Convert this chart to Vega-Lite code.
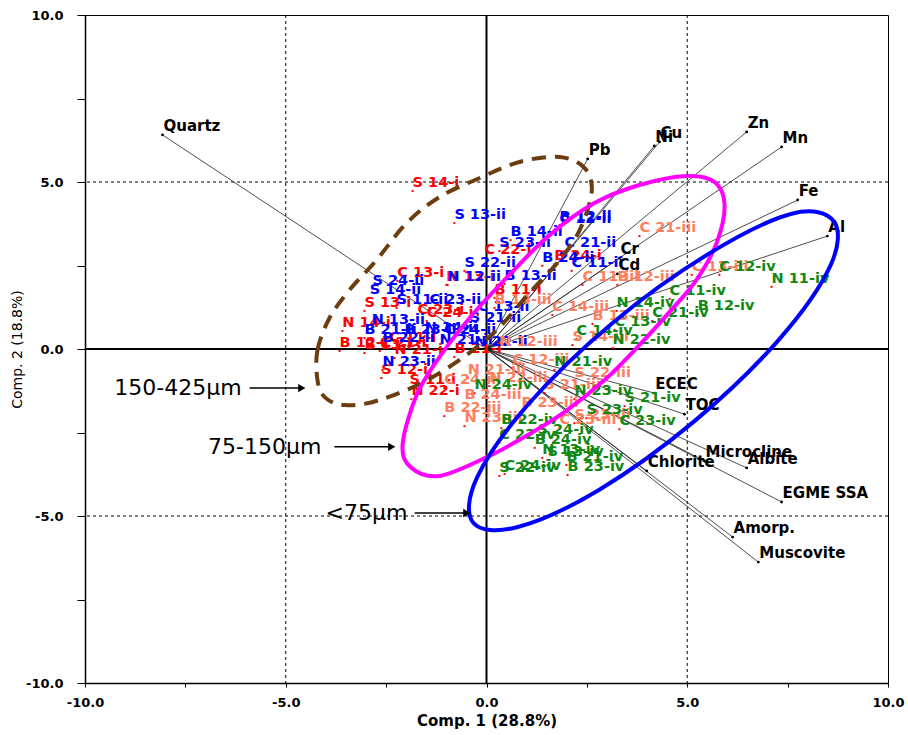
{
  "$schema": "https://vega.github.io/schema/vega-lite/v6.json",
  "width": 803,
  "height": 668,
  "autosize": {"type": "none"},
  "padding": {"left": 85, "top": 15, "right": 20, "bottom": 52},
  "background": "white",
  "config": {
    "view": {"stroke": "#000", "strokeWidth": 1},
    "axis": {"grid": false, "domainColor": "#000", "tickColor": "#000", "labelColor": "#000", "titleColor": "#000", "labelFont": "DejaVu Sans", "labelFontWeight": "bold", "labelFontSize": 13, "titleFont": "DejaVu Sans"}
  },
  "datasets": {
    "loadings": [
      {"n": "Quartz", "x": -8.07, "y": 6.41},
      {"n": "Pb", "x": 2.52, "y": 5.69},
      {"n": "Ni", "x": 4.18, "y": 6.08},
      {"n": "Cu", "x": 4.31, "y": 6.2},
      {"n": "Zn", "x": 6.48, "y": 6.5},
      {"n": "Mn", "x": 7.35, "y": 6.05},
      {"n": "Fe", "x": 7.75, "y": 4.46},
      {"n": "Al", "x": 8.49, "y": 3.38},
      {"n": "Cr", "x": 3.31, "y": 2.72},
      {"n": "Cd", "x": 3.26, "y": 2.25},
      {"n": "ECEC", "x": 4.18, "y": -1.32},
      {"n": "TOC", "x": 4.93, "y": -1.95},
      {"n": "Microcline", "x": 5.43, "y": -3.35},
      {"n": "Albite", "x": 6.48, "y": -3.56},
      {"n": "Chlorite", "x": 3.99, "y": -3.65},
      {"n": "EGME SSA", "x": 7.35, "y": -4.58},
      {"n": "Amorp.", "x": 6.13, "y": -5.63},
      {"n": "Muscovite", "x": 6.77, "y": -6.38}
    ],
    "scores": [
      {"t": "S 14-i", "g": "i", "x": -1.84, "y": 4.73},
      {"t": "C 22-i", "g": "i", "x": -0.05, "y": 2.72},
      {"t": "B 24-i", "g": "i", "x": 1.69, "y": 2.54},
      {"t": "C 13-i", "g": "i", "x": -2.22, "y": 2.04},
      {"t": "B 11-i", "g": "i", "x": 0.2, "y": 1.53},
      {"t": "S 13-i", "g": "i", "x": -3.04, "y": 1.14},
      {"t": "C 24-i", "g": "i", "x": -1.49, "y": 0.84},
      {"t": "C 23-i", "g": "i", "x": -1.72, "y": 0.93},
      {"t": "N 13-i", "g": "i", "x": -1.0, "y": 1.92},
      {"t": "N 14-i", "g": "i", "x": -3.59, "y": 0.54},
      {"t": "B 12-i", "g": "i", "x": -3.66, "y": -0.06},
      {"t": "B 13-i", "g": "i", "x": -3.04, "y": -0.12},
      {"t": "C 21-i", "g": "i", "x": -2.66, "y": -0.06},
      {"t": "C 11-i", "g": "i", "x": -2.42, "y": 0.09},
      {"t": "N 21-i", "g": "i", "x": -2.29, "y": -0.27},
      {"t": "S 12-i", "g": "i", "x": -2.62, "y": -0.87},
      {"t": "S 11-i", "g": "i", "x": -1.92, "y": -1.17},
      {"t": "N 22-i", "g": "i", "x": -1.87, "y": -1.5},
      {"t": "B 21-i", "g": "i", "x": -0.8, "y": -0.24},
      {"t": "S 13-ii", "g": "ii", "x": -0.8, "y": 3.77},
      {"t": "B 12-ii", "g": "ii", "x": 1.82, "y": 3.71},
      {"t": "C 12-ii", "g": "ii", "x": 1.82, "y": 3.65},
      {"t": "B 14-ii", "g": "ii", "x": 0.6, "y": 3.26},
      {"t": "S 23-ii", "g": "ii", "x": 0.32, "y": 2.93},
      {"t": "C 21-ii", "g": "ii", "x": 1.94, "y": 2.93},
      {"t": "B 24-ii", "g": "ii", "x": 1.39, "y": 2.49},
      {"t": "C 11-ii", "g": "ii", "x": 2.12, "y": 2.34},
      {"t": "S 22-ii", "g": "ii", "x": -0.55, "y": 2.34},
      {"t": "N 12-ii", "g": "ii", "x": -0.97, "y": 1.92},
      {"t": "B 13-ii", "g": "ii", "x": 0.45, "y": 1.95},
      {"t": "S 24-ii", "g": "ii", "x": -2.84, "y": 1.8},
      {"t": "S 14-ii", "g": "ii", "x": -2.91, "y": 1.53},
      {"t": "S 11-ii", "g": "ii", "x": -2.24, "y": 1.23},
      {"t": "C 23-ii", "g": "ii", "x": -1.42, "y": 1.23},
      {"t": "C 13-ii", "g": "ii", "x": -0.22, "y": 1.02},
      {"t": "S 21-ii", "g": "ii", "x": -0.42, "y": 0.69},
      {"t": "N 13-ii", "g": "ii", "x": -2.86, "y": 0.63},
      {"t": "B 21-ii", "g": "ii", "x": -3.04, "y": 0.33},
      {"t": "B 22-ii", "g": "ii", "x": -2.59, "y": 0.09},
      {"t": "B 23-ii", "g": "ii", "x": -2.04, "y": 0.33},
      {"t": "N 14-ii", "g": "ii", "x": -1.54, "y": 0.39},
      {"t": "C 24-ii", "g": "ii", "x": -1.05, "y": 0.33},
      {"t": "N 21-ii", "g": "ii", "x": -1.17, "y": 0.03},
      {"t": "N 22-ii", "g": "ii", "x": -0.3, "y": -0.03},
      {"t": "N 23-ii", "g": "ii", "x": -2.59, "y": -0.63},
      {"t": "C 21-iii", "g": "iii", "x": 3.81, "y": 3.38},
      {"t": "C 13-iii", "g": "iii", "x": 5.11, "y": 2.22},
      {"t": "C 11-iii", "g": "iii", "x": 2.39, "y": 1.92},
      {"t": "B 12-iii", "g": "iii", "x": 3.26, "y": 1.92},
      {"t": "B 14-iii", "g": "iii", "x": 0.2, "y": 1.23},
      {"t": "C 14-iii", "g": "iii", "x": 1.64, "y": 1.02},
      {"t": "B 13-iii", "g": "iii", "x": 2.64, "y": 0.75},
      {"t": "S 14-iii", "g": "iii", "x": 2.14, "y": 0.12},
      {"t": "N 12-iii", "g": "iii", "x": 0.32, "y": -0.03},
      {"t": "C 12-iii", "g": "iii", "x": 0.65, "y": -0.57},
      {"t": "S 22-iii", "g": "iii", "x": 2.19, "y": -0.96},
      {"t": "N 21-iii", "g": "iii", "x": -0.47, "y": -0.87},
      {"t": "S 21-iii", "g": "iii", "x": 1.44, "y": -1.32},
      {"t": "C 24-iii", "g": "iii", "x": -1.05, "y": -1.17},
      {"t": "B 24-iii", "g": "iii", "x": -0.55, "y": -1.62},
      {"t": "N 22-iii", "g": "iii", "x": 0.07, "y": -1.11},
      {"t": "B 22-iii", "g": "iii", "x": -1.05, "y": -2.01},
      {"t": "N 23-iii", "g": "iii", "x": -0.55, "y": -2.31},
      {"t": "B 23-iii", "g": "iii", "x": 0.87, "y": -1.86},
      {"t": "C 23-iii", "g": "iii", "x": 1.82, "y": -2.37},
      {"t": "S 23-iii", "g": "iii", "x": 2.19, "y": -2.22},
      {"t": "C 12-iv", "g": "iv", "x": 5.8, "y": 2.22},
      {"t": "N 11-iv", "g": "iv", "x": 7.1, "y": 1.86},
      {"t": "C 11-iv", "g": "iv", "x": 4.56, "y": 1.5},
      {"t": "B 12-iv", "g": "iv", "x": 5.26, "y": 1.05},
      {"t": "N 14-iv", "g": "iv", "x": 3.24, "y": 1.14},
      {"t": "C 21-iv", "g": "iv", "x": 4.13, "y": 0.84},
      {"t": "C 13-iv", "g": "iv", "x": 3.19, "y": 0.57},
      {"t": "C 14-iv", "g": "iv", "x": 2.24, "y": 0.3},
      {"t": "N 22-iv", "g": "iv", "x": 3.14, "y": 0.03},
      {"t": "N 21-iv", "g": "iv", "x": 1.69, "y": -0.63},
      {"t": "N 24-iv", "g": "iv", "x": -0.3, "y": -1.32},
      {"t": "N 23-iv", "g": "iv", "x": 2.19, "y": -1.5},
      {"t": "S 21-iv", "g": "iv", "x": 3.44, "y": -1.71},
      {"t": "S 23-iv", "g": "iv", "x": 2.49, "y": -2.07},
      {"t": "C 23-iv", "g": "iv", "x": 3.31, "y": -2.4},
      {"t": "B 22-iv", "g": "iv", "x": 0.37, "y": -2.37},
      {"t": "S 24-iv", "g": "iv", "x": 1.27, "y": -2.66},
      {"t": "C 22-iv", "g": "iv", "x": 0.32, "y": -2.81},
      {"t": "B 24-iv", "g": "iv", "x": 1.2, "y": -2.96},
      {"t": "N 13-iv", "g": "iv", "x": 1.39, "y": -3.26},
      {"t": "S 13-iv", "g": "iv", "x": 1.52, "y": -3.32},
      {"t": "B 21-iv", "g": "iv", "x": 1.99, "y": -3.47},
      {"t": "B 23-iv", "g": "iv", "x": 2.02, "y": -3.77},
      {"t": "S 22-iv", "g": "iv", "x": 0.32, "y": -3.8},
      {"t": "C 24-iv", "g": "iv", "x": 0.45, "y": -3.74}
    ],
    "brown": [
      {"o": 1, "x": -4.21, "y": -0.93}, {"o": 2, "x": -4.21, "y": -0.03}, {"o": 3, "x": -3.91, "y": 0.93},
      {"o": 4, "x": -3.41, "y": 1.77}, {"o": 5, "x": -2.74, "y": 2.66}, {"o": 6, "x": -1.99, "y": 3.77},
      {"o": 7, "x": -1.17, "y": 4.55}, {"o": 8, "x": -0.17, "y": 5.12}, {"o": 9, "x": 0.82, "y": 5.6},
      {"o": 10, "x": 1.82, "y": 5.75}, {"o": 11, "x": 2.44, "y": 5.42}, {"o": 12, "x": 2.62, "y": 4.7},
      {"o": 13, "x": 2.32, "y": 3.56}, {"o": 14, "x": 1.82, "y": 2.66}, {"o": 15, "x": 1.07, "y": 1.68},
      {"o": 16, "x": 0.07, "y": 0.36}, {"o": 17, "x": -1.34, "y": -0.84}, {"o": 18, "x": -2.67, "y": -1.53},
      {"o": 19, "x": -3.54, "y": -1.68}, {"o": 20, "x": -4.03, "y": -1.44}
    ],
    "magenta": [
      {"o": 1, "x": -2.09, "y": -2.87}, {"o": 2, "x": -1.87, "y": -3.56}, {"o": 3, "x": -1.17, "y": -3.8},
      {"o": 4, "x": 0.02, "y": -3.23}, {"o": 5, "x": 0.95, "y": -2.63}, {"o": 6, "x": 1.94, "y": -1.89},
      {"o": 7, "x": 2.94, "y": -0.93}, {"o": 8, "x": 3.81, "y": 0.12}, {"o": 9, "x": 4.56, "y": 1.11},
      {"o": 10, "x": 5.23, "y": 2.07}, {"o": 11, "x": 5.73, "y": 3.17}, {"o": 12, "x": 5.93, "y": 4.31},
      {"o": 13, "x": 5.68, "y": 5.0}, {"o": 14, "x": 4.98, "y": 5.18}, {"o": 15, "x": 3.81, "y": 4.91},
      {"o": 16, "x": 2.69, "y": 4.37}, {"o": 17, "x": 1.57, "y": 3.41}, {"o": 18, "x": 0.57, "y": 2.22},
      {"o": 19, "x": -0.42, "y": 0.93}, {"o": 20, "x": -1.17, "y": -0.24}, {"o": 21, "x": -1.74, "y": -1.38}
    ],
    "blue": [
      {"o": 1, "x": 8.65, "y": 3.82}, {"o": 2, "x": 8.56, "y": 2.48}, {"o": 3, "x": 7.29, "y": 0.29},
      {"o": 4, "x": 5.18, "y": -2.16}, {"o": 5, "x": 2.8, "y": -4.22}, {"o": 6, "x": 0.78, "y": -5.33},
      {"o": 7, "x": -0.33, "y": -5.2}, {"o": 8, "x": -0.24, "y": -3.86}, {"o": 9, "x": 1.03, "y": -1.67},
      {"o": 10, "x": 3.14, "y": 0.78}, {"o": 11, "x": 5.52, "y": 2.84}, {"o": 12, "x": 7.6, "y": 4.05}
    ],
    "ann": [
      {"t": "150-425µm", "tx": -6.1, "x1": -5.9, "x2": -4.6, "y": -1.17},
      {"t": "75-150µm", "tx": -4.11, "x1": -3.79, "x2": -2.36, "y": -2.93},
      {"t": "<75µm", "tx": -1.97, "x1": -1.79, "x2": -0.49, "y": -4.91}
    ],
    "dash": [{"v": -5}, {"v": 5}],
    "zero": [{"v": 0}]
  },
  "layer": [
    {
      "data": {"name": "dash"},
      "mark": {"type": "rule", "color": "#000", "strokeWidth": 1, "strokeDash": [3, 3]},
      "encoding": {"x": {"field": "v", "type": "quantitative", "scale": {"domain": [-10, 10], "nice": false, "zero": false}, "axis": {"title": "Comp. 1 (28.8%)", "values": [-10, -7.5, -5, -2.5, 0, 2.5, 5, 7.5, 10], "labelExpr": "abs(datum.value % 5) < 0.01 ? replace(format(datum.value, '.1f'), '−', '-') : ''", "tickSize": 4, "labelPadding": 9, "titleFontSize": 15, "titleFontWeight": "bold", "titlePadding": 4, "domainWidth": 1.5, "labelFlush": false}}}
    },
    {
      "data": {"name": "dash"},
      "mark": {"type": "rule", "color": "#000", "strokeWidth": 1, "strokeDash": [3, 3]},
      "encoding": {"y": {"field": "v", "type": "quantitative", "scale": {"domain": [-10, 10], "nice": false, "zero": false}, "axis": {"title": "Comp. 2 (18.8%)", "values": [-10, -7.5, -5, -2.5, 0, 2.5, 5, 7.5, 10], "labelExpr": "abs(datum.value % 5) < 0.01 ? replace(format(datum.value, '.1f'), '−', '-') : ''", "tickSize": 8, "labelPadding": 14, "titleFontSize": 14, "titleFontWeight": "normal", "titlePadding": 1, "domainWidth": 1.5, "labelFlush": false}}}
    },
    {
      "data": {"name": "zero"},
      "mark": {"type": "rule", "color": "#000", "strokeWidth": 2},
      "encoding": {"x": {"field": "v", "type": "quantitative"}}
    },
    {
      "data": {"name": "zero"},
      "mark": {"type": "rule", "color": "#000", "strokeWidth": 2},
      "encoding": {"y": {"field": "v", "type": "quantitative"}}
    },
    {
      "data": {"name": "loadings"},
      "mark": {"type": "rule", "color": "#222", "strokeWidth": 0.8},
      "encoding": {
        "x": {"field": "x", "type": "quantitative"},
        "y": {"field": "y", "type": "quantitative"},
        "x2": {"datum": 0},
        "y2": {"datum": 0}
      }
    },
    {
      "data": {"name": "loadings"},
      "mark": {"type": "point", "filled": true, "color": "#000", "size": 8, "opacity": 1},
      "encoding": {"x": {"field": "x", "type": "quantitative"}, "y": {"field": "y", "type": "quantitative"}}
    },
    {
      "data": {"name": "scores"},
      "mark": {"type": "square", "color": "#ff0000", "size": 4, "opacity": 1},
      "encoding": {"x": {"field": "x", "type": "quantitative"}, "y": {"field": "y", "type": "quantitative"}}
    },
    {
      "data": {"name": "scores"},
      "mark": {"type": "text", "align": "left", "baseline": "middle", "dy": -8, "font": "DejaVu Sans", "fontWeight": "bold", "fontSize": 14.5},
      "encoding": {
        "x": {"field": "x", "type": "quantitative"},
        "y": {"field": "y", "type": "quantitative"},
        "text": {"field": "t"},
        "color": {"field": "g", "type": "nominal", "legend": null, "scale": {"domain": ["i", "ii", "iii", "iv"], "range": ["#ff0000", "#0000ff", "#ff8060", "#118811"]}}
      }
    },
    {
      "data": {"name": "loadings"},
      "mark": {"type": "text", "align": "left", "baseline": "middle", "dx": 1, "dy": -9, "font": "DejaVu Sans", "fontWeight": "bold", "fontSize": 15, "color": "#000"},
      "encoding": {"x": {"field": "x", "type": "quantitative"}, "y": {"field": "y", "type": "quantitative"}, "text": {"field": "n"}}
    },
    {
      "data": {"name": "brown"},
      "mark": {"type": "line", "interpolate": "cardinal-closed", "color": "#6b3d0f", "strokeWidth": 4, "strokeDash": [14, 9]},
      "encoding": {"x": {"field": "x", "type": "quantitative"}, "y": {"field": "y", "type": "quantitative"}, "order": {"field": "o"}}
    },
    {
      "data": {"name": "magenta"},
      "mark": {"type": "line", "interpolate": "cardinal-closed", "color": "#ff00ff", "strokeWidth": 4},
      "encoding": {"x": {"field": "x", "type": "quantitative"}, "y": {"field": "y", "type": "quantitative"}, "order": {"field": "o"}}
    },
    {
      "data": {"name": "blue"},
      "mark": {"type": "line", "interpolate": "cardinal-closed", "color": "#0000ff", "strokeWidth": 4},
      "encoding": {"x": {"field": "x", "type": "quantitative"}, "y": {"field": "y", "type": "quantitative"}, "order": {"field": "o"}}
    },
    {
      "data": {"name": "ann"},
      "mark": {"type": "rule", "color": "#000", "strokeWidth": 1.5},
      "encoding": {"x": {"field": "x1", "type": "quantitative"}, "x2": {"field": "x2"}, "y": {"field": "y", "type": "quantitative"}}
    },
    {
      "data": {"name": "ann"},
      "mark": {"type": "point", "shape": "triangle-right", "filled": true, "color": "#000", "size": 70, "opacity": 1},
      "encoding": {"x": {"field": "x2", "type": "quantitative"}, "y": {"field": "y", "type": "quantitative"}}
    },
    {
      "data": {"name": "ann"},
      "mark": {"type": "text", "align": "right", "baseline": "middle", "font": "DejaVu Sans", "fontSize": 22, "color": "#000"},
      "encoding": {"x": {"field": "tx", "type": "quantitative"}, "y": {"field": "y", "type": "quantitative"}, "text": {"field": "t"}}
    }
  ]
}
